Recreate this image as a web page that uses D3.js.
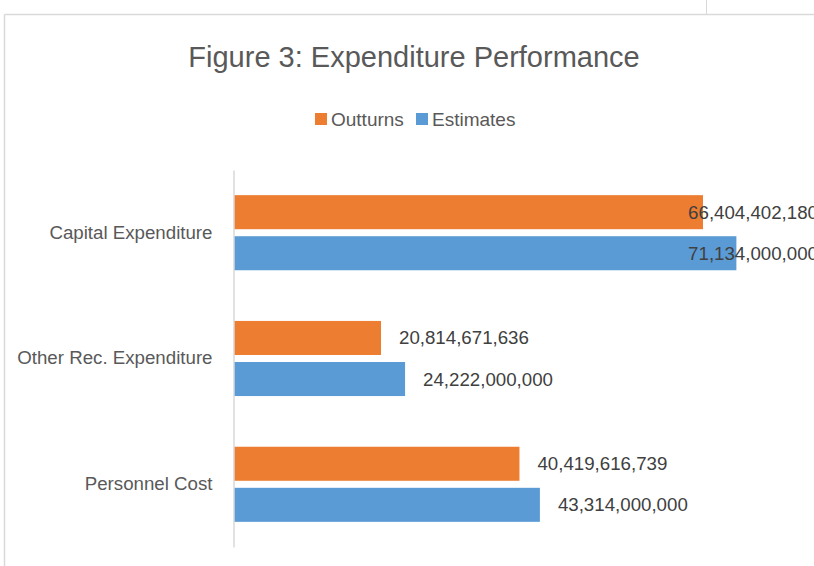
<!DOCTYPE html>
<html>
<head>
<meta charset="utf-8">
<script src="https://cdn.jsdelivr.net/npm/d3@7"></script>
<style>
  body { margin: 0; background: #fff; }
  svg { display: block; font-family: "Liberation Sans", Arial, sans-serif; }
</style>
</head>
<body>
<svg></svg>
<script>
const categories = ["Capital Expenditure", "Other Rec. Expenditure", "Personnel Cost"];
const seriesNames = ["Outturns", "Estimates"];
const outturns = [66404402180, 20814671636, 40419616739];
const estimates = [71134000000, 24222000000, 43314000000];
const colors = ["#ED7D31", "#5B9BD5"];

const width = 814, height = 566;
const svg = d3.select("svg").attr("width", width).attr("height", height);

// frame of the chart object (cropped screenshot)
svg.append("line").attr("x1", 4.5).attr("x2", width).attr("y1", 14.5).attr("y2", 14.5)
  .attr("stroke", "#D9D9D9").attr("stroke-width", 1.5);
svg.append("line").attr("x1", 4.5).attr("x2", 4.5).attr("y1", 14.5).attr("y2", height)
  .attr("stroke", "#D9D9D9").attr("stroke-width", 1.5);
svg.append("line").attr("x1", 706.5).attr("x2", 706.5).attr("y1", 0).attr("y2", 14)
  .attr("stroke", "#D9D9D9").attr("stroke-width", 1);

const data = categories.map((c, i) => ({ cat: c, values: [outturns[i], estimates[i]] }));

const plot = { left: 234, top: 170, bottom: 547 };
const x = d3.scaleLinear().domain([0, 80e9]).range([plot.left, plot.left + 565]);
const y = d3.scaleBand().domain(categories).range([plot.top, plot.bottom]).paddingInner(0.403).paddingOuter(0.2);
const ySub = d3.scaleBand().domain(seriesNames).range([0, y.bandwidth()]).paddingInner(0.171);

// title
svg.append("text").attr("x", 414).attr("y", 67).attr("text-anchor", "middle")
  .attr("font-size", 29).attr("fill", "#595959").text("Figure 3: Expenditure Performance");

// legend
const legend = svg.append("g");
const legendX = [315, 416];
seriesNames.forEach((s, i) => {
  legend.append("rect").attr("x", legendX[i]).attr("y", 113).attr("width", 12).attr("height", 12).attr("fill", colors[i]);
  legend.append("text").attr("x", legendX[i] + 16).attr("y", 126).attr("font-size", 19)
    .attr("fill", "#595959").text(s);
});

// bars
const groups = svg.append("g").selectAll("g").data(data).join("g")
  .attr("transform", d => `translate(0,${y(d.cat)})`);

groups.selectAll("rect").data(d => d.values.map((v, i) => ({ v, i }))).join("rect")
  .attr("x", x(0))
  .attr("y", d => ySub(seriesNames[d.i]))
  .attr("width", d => x(d.v) - x(0))
  .attr("height", ySub.bandwidth())
  .attr("fill", d => colors[d.i]);

const fmt = d3.format(",");
groups.selectAll("text.lbl").data(d => d.values.map((v, i) => ({ v, i }))).join("text")
  .attr("class", "lbl")
  .attr("y", d => ySub(seriesNames[d.i]) + ySub.bandwidth() / 2 + 6.5)
  .attr("font-size", 18.7).attr("fill", "#404040")
  .text(d => fmt(d.v))
  .each(function(d) {
    const w = this.getComputedTextLength();
    const pos = Math.min(x(d.v) + 18, 818 - w);
    d3.select(this).attr("x", pos);
  });

// category axis
const yAxis = svg.append("g").attr("transform", `translate(${plot.left - 0.5},0)`)
  .call(d3.axisLeft(y).tickSize(0).tickPadding(21));
yAxis.select(".domain").attr("stroke", "#D9D9D9").attr("stroke-width", 1.5);
yAxis.selectAll("text").attr("font-size", 18.7).attr("fill", "#595959")
  .attr("font-family", "Liberation Sans, Arial, sans-serif");
</script>
</body>
</html>
